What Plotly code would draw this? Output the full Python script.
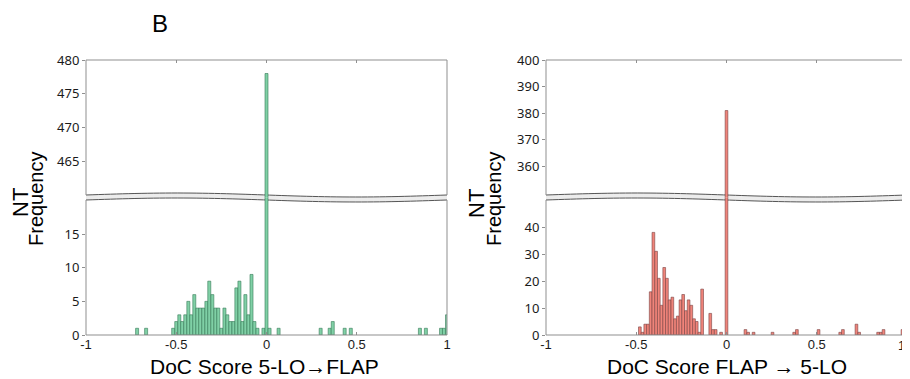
import plotly.graph_objects as go
import numpy as np

# ---------------- data ----------------
left_bin_width = 1 / 60
left_x = [-0.717, -0.667, -0.517, -0.5, -0.483, -0.467, -0.45, -0.433, -0.417, -0.4,
          -0.383, -0.367, -0.35, -0.333, -0.317, -0.3, -0.283, -0.267, -0.25, -0.233,
          -0.217, -0.2, -0.183, -0.167, -0.15, -0.133, -0.117, -0.1, -0.083, -0.067,
          -0.05, -0.017, 0.0, 0.017, 0.067, 0.3, 0.35, 0.367, 0.433, 0.467,
          0.85, 0.883, 0.967, 0.983, 1.0]
left_counts = [1, 1, 1, 2, 3, 2, 3, 5, 3, 6,
               4, 4, 4, 5, 8, 6, 4, 4, 1, 4,
               3, 2, 2, 7, 8, 2, 6, 3, 9, 2,
               1, 1, 478, 1, 1, 1, 1, 2, 1, 1,
               1, 1, 1, 1, 3]

right_bin_width = 0.015
right_x = [-0.48, -0.465, -0.45, -0.435, -0.42, -0.405, -0.39, -0.375, -0.36, -0.345,
           -0.33, -0.315, -0.3, -0.285, -0.27, -0.255, -0.24, -0.225, -0.21, -0.195,
           -0.18, -0.165, -0.15, -0.135, -0.09, -0.075, -0.06, -0.03, 0.0, 0.105,
           0.12, 0.15, 0.255, 0.375, 0.39, 0.51, 0.63, 0.645, 0.72, 0.735,
           0.84, 0.855, 0.87, 0.975]
right_counts = [3, 1, 4, 4, 16, 38, 31, 21, 11, 25,
                21, 13, 14, 6, 7, 13, 15, 9, 13, 11,
                6, 5, 1, 17, 8, 2, 2, 1, 381, 2,
                1, 1, 1, 1, 2, 2, 1, 2, 4, 1,
                1, 1, 2, 2]

x_ticks = [-1, -0.5, 0, 0.5, 1]
x_tick_labels = ["-1", "-0.5", "0", "0.5", "1"]
left_upper_ticks = [465, 470, 475, 480]
left_lower_ticks = [0, 5, 10, 15]
right_upper_ticks = [360, 370, 380, 390, 400]
right_lower_ticks = [0, 10, 20, 30, 40]

left_title = "DoC Score 5-LO\u2192FLAP"
right_title = "DoC Score FLAP \u2192 5-LO"

# ---------------- styling ----------------
GREEN_FILL = "rgb(128,208,166)"
GREEN_LINE = "rgb(52,120,86)"
RED_FILL = "rgb(240,132,122)"
RED_LINE = "rgb(120,66,66)"
FRAME = "#8f8f8f"
NARROW = "Liberation Sans Narrow, Liberation Sans, Arial, sans-serif"
TICKFONT = "Noto Sans, Liberation Sans, sans-serif"

# the page body has an 8px margin: the figure is placed at (8, 8)
OFF = 8
W, H = 910 - OFF, 379 - OFF


def px(x):
    return (x - OFF) / W


def py(y):
    return 1 - (y - OFF) / H


# panel geometry (window pixels)
LX0, LX1 = 86, 447
RX0, RX1 = 546, 907
TOP, MID, BOT = 60, 197.5, 335

fig = go.Figure()

panels = [
    ("x", "y", left_x, left_counts, left_bin_width, GREEN_FILL, GREEN_LINE),
    ("x2", "y2", left_x, left_counts, left_bin_width, GREEN_FILL, GREEN_LINE),
    ("x3", "y3", right_x, right_counts, right_bin_width, RED_FILL, RED_LINE),
    ("x4", "y4", right_x, right_counts, right_bin_width, RED_FILL, RED_LINE),
]
for xa, ya, xs, ys, w, fc, lc in panels:
    fig.add_trace(go.Bar(
        x=xs, y=ys, width=w, xaxis=xa, yaxis=ya,
        marker=dict(color=fc, line=dict(color=lc, width=0.6)),
        showlegend=False, hoverinfo="skip",
    ))

xcommon = dict(range=[-1, 1], tickvals=x_ticks,
               ticks="inside", ticklen=3, tickcolor=FRAME, showgrid=False,
               zeroline=False, showline=False, fixedrange=True, automargin=False,
               ticklabeloverflow="allow")
ycommon = dict(ticks="outside", ticklen=3, tickcolor=FRAME, showgrid=False,
               zeroline=False, showline=False, fixedrange=True, automargin=False,
               tickfont=dict(family=TICKFONT, size=13, color="#1a1a1a"))

upper_dom = [py(MID), py(TOP)]
lower_dom = [py(BOT), py(MID)]
xtickfont = dict(family=NARROW, size=13, color="#1a1a1a")
# the right panel's last label sits at the window edge; it is written as a note below
right_tick_text = x_tick_labels[:-1] + [""]

fig.update_layout(
    width=W, height=H,
    margin=dict(l=0, r=0, t=0, b=0, pad=0, autoexpand=False),
    paper_bgcolor="white",
    plot_bgcolor="rgba(0,0,0,0)",
    barmode="overlay",
    xaxis=dict(**xcommon, domain=[px(LX0), px(LX1)], anchor="y", tickfont=xtickfont,
               ticktext=x_tick_labels),
    yaxis=dict(**ycommon, domain=lower_dom, anchor="x",
               range=[0, (BOT - MID) / 6.73], tickvals=left_lower_ticks),
    xaxis2=dict(**xcommon, domain=[px(LX0), px(LX1)], anchor="y2", side="top",
                showticklabels=False),
    yaxis2=dict(**ycommon, domain=upper_dom, anchor="x2",
                range=[480 - (MID - TOP) / 6.75, 480], tickvals=left_upper_ticks),
    xaxis3=dict(**xcommon, domain=[px(RX0), px(RX1)], anchor="y3", tickfont=xtickfont,
                ticktext=right_tick_text),
    yaxis3=dict(**ycommon, domain=lower_dom, anchor="x3",
                range=[0, (BOT - MID) / 2.7], tickvals=right_lower_ticks),
    xaxis4=dict(**xcommon, domain=[px(RX0), px(RX1)], anchor="y4", side="top",
                showticklabels=False),
    yaxis4=dict(**ycommon, domain=upper_dom, anchor="x4",
                range=[400 - (MID - TOP) / 2.66, 400], tickvals=right_upper_ticks),
)

shapes = []


def wave(x0, x1, base, n=60):
    xs = np.linspace(x0, x1, n)
    ys = base - 2.0 * np.sin(2 * np.pi * (xs - x0) / (x1 - x0))
    return xs, ys


for x0, x1 in [(LX0, LX1), (RX0, RX1)]:
    xu, yu = wave(x0, x1, 195.0)
    xl, yl = wave(x0, x1, 200.0)
    pts = [(px(a), py(b)) for a, b in zip(xu, yu)] + \
          [(px(a), py(b)) for a, b in zip(xl[::-1], yl[::-1])]
    path = "M " + " L ".join(f"{a:.5f},{b:.5f}" for a, b in pts) + " Z"
    shapes.append(dict(type="path", xref="paper", yref="paper", path=path,
                       fillcolor="#ececec", line=dict(width=0), layer="below"))
    for xs_, ys_ in [(xu, yu), (xl, yl)]:
        p = "M " + " L ".join(f"{px(a):.5f},{py(b):.5f}" for a, b in zip(xs_, ys_))
        shapes.append(dict(type="path", xref="paper", yref="paper", path=p,
                           line=dict(color="#555555", width=1), layer="below"))
    frame_lines = [
        (x0, TOP, x1, TOP),
        (x0, TOP, x0, 195.0),
        (x1, TOP, x1, 195.0),
        (x0, 200.0, x0, BOT),
        (x1, 200.0, x1, BOT),
        (x0, BOT, x1, BOT),
    ]
    for a, b, c, d in frame_lines:
        shapes.append(dict(type="line", xref="paper", yref="paper",
                           x0=px(a), y0=py(b), x1=px(c), y1=py(d),
                           line=dict(color=FRAME, width=1), layer="above"))

fig.update_layout(shapes=shapes)


def note(text, x, y, size, family="Liberation Sans, Arial", angle=0, xanchor="center",
         yanchor="middle", color="black"):
    return dict(text=text, x=px(x), y=py(y), xref="paper", yref="paper",
                xanchor=xanchor, yanchor=yanchor, textangle=angle, showarrow=False,
                font=dict(family=family, size=size, color=color))


ann = [
    note("B", 160, 24, 24),
    note(left_title, 264, 366, 21, family=NARROW),
    note(right_title, 727, 366, 21, family=NARROW),
    dict(text=x_tick_labels[-1], x=x_ticks[-1], xref="x3", y=py(345), yref="paper",
         xanchor="right", yanchor="middle", showarrow=False,
         font=xtickfont),
]
for nt_x, fr_x in [(21, 36), (477, 494)]:
    ann.append(note("NT", nt_x, 203, 22, angle=-90))
    ann.append(note("Frequency", fr_x, 199, 20, angle=-90))
fig.update_layout(annotations=ann)

fig.write_html("out.html")
